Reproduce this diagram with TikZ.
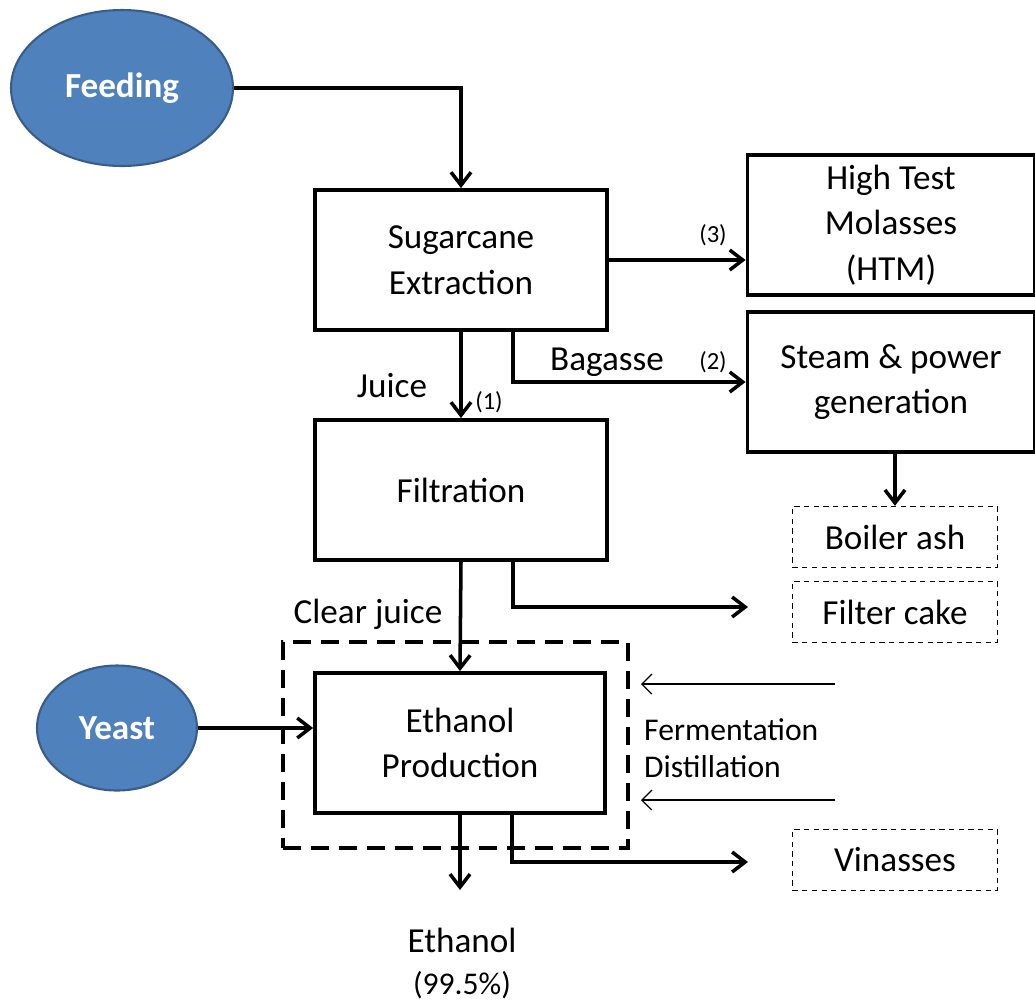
\documentclass[tikz,border=0pt]{standalone}
\usepackage{fontspec}
\setmainfont{Carlito}
\usetikzlibrary{arrows.meta,positioning,calc}
\definecolor{ovalblue}{HTML}{4F81BD}
\definecolor{ovaledge}{HTML}{385D8A}
\tikzset{
  box/.style={draw, line width=2.2pt, minimum width=5.84cm, minimum height=2.8cm, align=center, font=\fontsize{20}{26}\selectfont},
  outbox/.style={draw, line width=0.8pt, dash pattern=on 3pt off 2.5pt, minimum width=4.1cm, minimum height=1.22cm, font=\fontsize{20}{24}\selectfont},
  oval/.style={ellipse, draw=ovaledge, line width=1.2pt, fill=ovalblue, text=white, font=\fontsize{20}{24}\selectfont\bfseries},
  arr/.style={draw, line width=2pt, -{Straight Barb[length=2.6mm,width=4mm]}},
  thinarr/.style={draw, line width=0.7pt, -{Straight Barb[length=2mm,width=4mm]}},
  lbl/.style={font=\fontsize{20}{24}\selectfont},
  small/.style={font=\fontsize{14}{16}\selectfont}
}
\usetikzlibrary{shapes.geometric}
\begin{document}
\begin{tikzpicture}[x=0.02cm, y=-0.02cm]
  \useasboundingbox (0,0) rectangle (1035,1005);
  % sources
  \node[oval, minimum width=4.44cm, minimum height=3.12cm] (feed) at (122,88) {Feeding};
  \node[oval, minimum width=3.2cm, minimum height=2.5cm] (yeast) at (117,728) {Yeast};
  % process boxes
  \node[box] (ext) at (461,260) {Sugarcane\\Extraction};
  \node[box] (filt) at (461,490) {Filtration};
  \node[box, minimum width=5.8cm] (eth) at (460,743) {Ethanol\\Production};
  \node[box, minimum width=5.74cm] (htm) at (891,225) {High Test\\Molasses\\(HTM)};
  \node[box, minimum width=5.74cm] (steam) at (891,382) {Steam \& power\\generation};
  % dashed boxes
  \node[outbox] (ash) at (895,537) {Boiler ash};
  \node[outbox] (cake) at (895,612) {Filter cake};
  \node[outbox] (vin) at (895,860) {Vinasses};
  \node[draw, line width=2pt, dash pattern=on 0.36cm off 0.2cm, minimum width=6.9cm, minimum height=4.12cm] (unit) at (455.5,745) {};
  % free ends
  \coordinate (cakein) at (748,607);
  \coordinate (vinin) at (748,862);
  \coordinate (etohin) at (460,890);
  \coordinate (f1) at (835,684);
  \coordinate (f2) at (835,800);
  % connectors
  \draw[arr] (feed.east) -| (ext.north);
  \draw[arr] (ext.east) -- (ext.east -| htm.west);
  \draw[arr] ($(ext.south)+(52,0)$) |- (steam.west);
  \draw[arr] (ext.south) -- (filt.north);
  \draw[arr] (ash.north |- steam.south) -- (ash.north);
  \draw[arr] ($(filt.south)+(52,0)$) |- (cakein);
  \draw[arr] (filt.south) -- (eth.north);
  \draw[arr] (yeast.east) -- (yeast.east -| eth.west);
  \draw[arr] (eth.south) -- (etohin);
  \draw[arr] ($(eth.south)+(52,0)$) |- (vinin);
  \draw[thinarr] (f1) -- (f1 -| 641,0);
  \draw[thinarr] (f2) -- (f2 -| 641,0);
  % labels
  \node[small] (l3) at (713,235) {(3)};
  \node[small] (l2) at (713,362) {(2)};
  \node[small] (l1) at (489,402) {(1)};
  \node[lbl] (bag) at (607,362) {Bagasse};
  \node[lbl] (jui) at (392,386) {Juice};
  \node[lbl] (clr) at (368,614) {Clear juice};
  \node[lbl, font=\fontsize{18}{21}\selectfont, align=left, anchor=west] (fd) at (638,748) {Fermentation\\Distillation};
  \node[lbl, align=center, anchor=north] (etoh) at (462,922) {Ethanol\\{\fontsize{18}{20}\selectfont(99.5\%)}};
\end{tikzpicture}
\end{document}
